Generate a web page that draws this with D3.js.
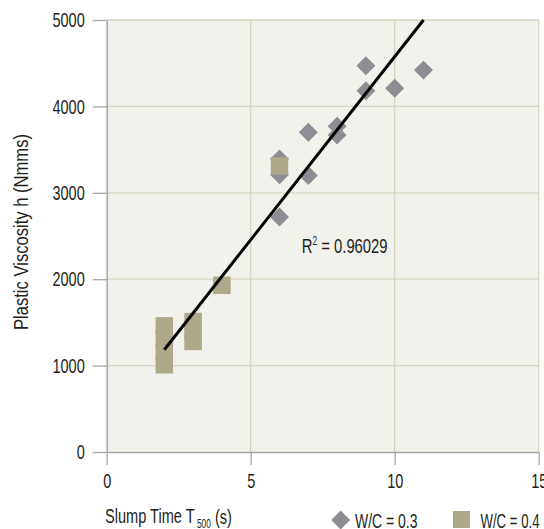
<!DOCTYPE html>
<html>
<head>
<meta charset="utf-8">
<script src="https://cdn.jsdelivr.net/npm/d3@7"></script>
<style>
  body { margin: 0; background: #fff; }
  text { font-family: "Liberation Sans", Arial, sans-serif; fill: #231f20; }
</style>
</head>
<body>
<svg id="chart" width="544" height="529"></svg>
<script>
// W/C = 0.3 (diamonds)
const wc03X = [6, 6, 6, 7, 7, 8, 8, 9, 9, 10, 11]
const wc03Y = [2720, 3210, 3390, 3200, 3700, 3670, 3770, 4180, 4470, 4210, 4420]
// W/C = 0.4 (squares)
const wc04X = [2, 2, 2, 2, 3, 3, 3, 4, 6]
const wc04Y = [1010, 1160, 1310, 1460, 1280, 1395, 1510, 1930, 3310]
// linear trend line
const trendSlope = 424
const trendIntercept = 336
const trendRange = [2, 11]
const r2Label = "0.96029"
const xTicks = [0, 5, 10, 15]
const yTicks = [0, 1000, 2000, 3000, 4000, 5000]
const seriesNames = ["W/C = 0.3", "W/C = 0.4"]

const svg = d3.select('#chart')
const x = d3.scaleLinear().domain([0, 15]).range([106.7, 538.7])
const y = d3.scaleLinear().domain([0, 5000]).range([452, 20])

const diamondColor = '#8d8e93'
const squareColor = '#ada98a'
const gridColor = '#d8d4c1'
const axisColor = '#a5a5a5'
const fontSize = 21

// squash glyphs to look like a condensed face
function condense(sel, k) {
  sel.each(function () {
    let w = this.getComputedTextLength()
    d3.select(this).attr('textLength', w * k).attr('lengthAdjust', 'spacingAndGlyphs')
  })
}
function fitWidth(sel, target) {
  sel.each(function () {
    let w = this.getComputedTextLength()
    d3.select(this).attr('textLength', target).attr('lengthAdjust', 'spacingAndGlyphs')
  })
}
// for texts with tspans: scale the whole text horizontally
function fitGroup(sel, px, py, target) {
  let w = sel.node().getBBox().width
  sel.attr('transform', `translate(${px},${py}) scale(${target / w},1)`)
}

// plot background
svg.append('rect')
  .attr('x', x(0)).attr('y', y(5000))
  .attr('width', x(15) - x(0)).attr('height', y(0) - y(5000))
  .attr('fill', '#f2f2ed')

// grid
let grid = svg.append('g')
grid.selectAll('line.h').data(yTicks.filter(d => d > 0)).enter().append('line')
  .attr('x1', x(0)).attr('x2', x(15))
  .attr('y1', d => y(d)).attr('y2', d => y(d))
  .attr('stroke', gridColor).attr('stroke-width', 1.3)
grid.selectAll('line.v').data(xTicks.filter(d => d > 0)).enter().append('line')
  .attr('x1', d => x(d)).attr('x2', d => x(d))
  .attr('y1', y(0)).attr('y2', y(5000))
  .attr('stroke', gridColor).attr('stroke-width', 1.3)

// axes
let xAxis = svg.append('g').attr('transform', `translate(0,${y(0)})`)
  .call(d3.axisBottom(x).tickValues(xTicks).tickFormat(d3.format('d')).tickSize(13).tickPadding(8).tickSizeOuter(0))
let yAxis = svg.append('g').attr('transform', `translate(${x(0)},0)`)
  .call(d3.axisLeft(y).tickValues(yTicks).tickFormat(d3.format('d')).tickSize(14).tickPadding(8).tickSizeOuter(0))
for (let ax of [xAxis, yAxis]) {
  ax.select('.domain').attr('stroke', axisColor).attr('stroke-width', 1.5)
  ax.selectAll('.tick line').attr('stroke', axisColor).attr('stroke-width', 1.3)
  ax.selectAll('.tick text').attr('font-size', fontSize).attr('fill', '#231f20')
    .attr('font-family', '"Liberation Sans", Arial, sans-serif')
    .call(condense, 0.69)
}

// W/C = 0.3 diamonds
const diamond = d3.symbol(d3.symbolSquare, 180)
svg.append('g').selectAll('path').data(d3.zip(wc03X, wc03Y)).enter().append('path')
  .attr('d', diamond)
  .attr('transform', d => `translate(${x(d[0])},${y(d[1])}) rotate(45)`)
  .attr('fill', diamondColor)

// W/C = 0.4 squares
const square = d3.symbol(d3.symbolSquare, 306)
svg.append('g').selectAll('path').data(d3.zip(wc04X, wc04Y)).enter().append('path')
  .attr('d', square)
  .attr('transform', d => `translate(${x(d[0])},${y(d[1])})`)
  .attr('fill', squareColor)

// trend line
svg.append('path')
  .datum(trendRange.map(v => [v, trendIntercept + trendSlope * v]))
  .attr('d', d3.line().x(d => x(d[0])).y(d => y(d[1])))
  .attr('stroke', '#000').attr('stroke-width', 3).attr('fill', 'none')

// R² label
let r2 = svg.append('text').attr('font-size', fontSize)
r2.append('tspan').text('R')
r2.append('tspan').attr('font-size', 12).attr('dy', -8).text('2')
r2.append('tspan').attr('dy', 8).text(' = ' + r2Label)
fitGroup(r2, x(6.77), y(2303), 86)

// axis titles
svg.append('text')
  .attr('transform', 'translate(28,232) rotate(-90)')
  .attr('text-anchor', 'middle')
  .attr('font-size', fontSize)
  .text('Plastic Viscosity h (Nmms)')
  .call(fitWidth, 196)

let xt = svg.append('text').attr('font-size', fontSize)
xt.append('tspan').text('Slump Time T')
xt.append('tspan').attr('font-size', 12).attr('dy', 5).text(' 500')
xt.append('tspan').attr('dy', -4).text(' (s)')
fitGroup(xt, 105, 523, 127)

// legend
let legend = svg.append('g')
legend.append('path').attr('d', diamond)
  .attr('transform', 'translate(340.7,520) rotate(45)').attr('fill', diamondColor)
legend.append('text').attr('x', 355).attr('y', 528).attr('font-size', fontSize)
  .text(seriesNames[0]).call(fitWidth, 62.5)
legend.append('rect').attr('x', 453).attr('y', 511).attr('width', 17).attr('height', 17)
  .attr('fill', squareColor)
legend.append('text').attr('x', 480.5).attr('y', 528).attr('font-size', fontSize)
  .text(seriesNames[1]).call(fitWidth, 59)
</script>
</body>
</html>
